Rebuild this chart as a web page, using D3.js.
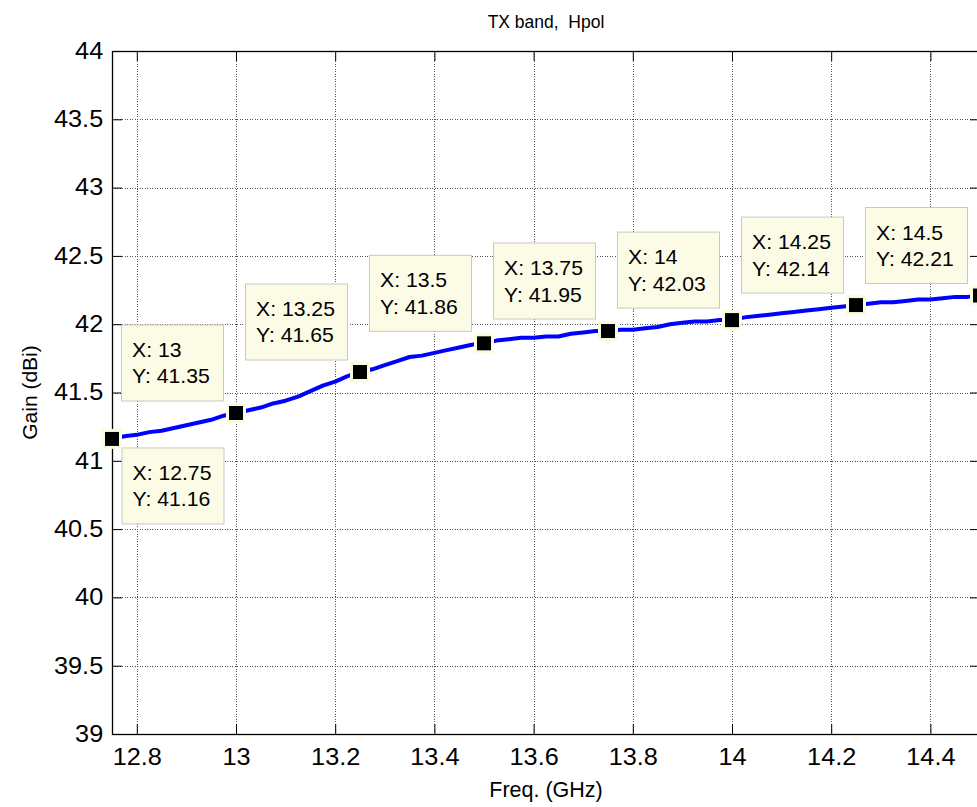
<!DOCTYPE html>
<html>
<head>
<meta charset="utf-8">
<script src="https://cdn.jsdelivr.net/npm/d3@7"></script>
<style>
  body { margin: 0; background: #fff; }
  svg { display: block; font-family: 'Liberation Sans', Arial, sans-serif; }
</style>
</head>
<body>
<svg id="chart"></svg>
<script>
const TITLE = 'TX band,  Hpol'
const X_LABEL = 'Freq. (GHz)'
const Y_LABEL = 'Gain (dBi)'

// measured gain curve (GHz / dBi)
const freq = [12.75, 12.775, 12.8, 12.825, 12.85, 12.875, 12.9, 12.925, 12.95, 12.975,
    13, 13.025, 13.05, 13.075, 13.1, 13.125, 13.15, 13.175, 13.2, 13.225,
    13.25, 13.275, 13.3, 13.325, 13.35, 13.375, 13.4, 13.425, 13.45, 13.475,
    13.5, 13.525, 13.55, 13.575, 13.6, 13.625, 13.65, 13.675, 13.7, 13.725,
    13.75, 13.775, 13.8, 13.825, 13.85, 13.875, 13.9, 13.925, 13.95, 13.975,
    14, 14.025, 14.05, 14.075, 14.1, 14.125, 14.15, 14.175, 14.2, 14.225,
    14.25, 14.275, 14.3, 14.325, 14.35, 14.375, 14.4, 14.425, 14.45, 14.475, 14.5]
const gain = [41.16, 41.18, 41.19, 41.21, 41.22, 41.24, 41.26, 41.28, 41.30, 41.33,
    41.35, 41.37, 41.39, 41.42, 41.44, 41.47, 41.51, 41.55, 41.58, 41.62,
    41.65, 41.67, 41.70, 41.73, 41.76, 41.77, 41.79, 41.81, 41.83, 41.85,
    41.86, 41.88, 41.89, 41.90, 41.90, 41.91, 41.91, 41.93, 41.94, 41.95,
    41.95, 41.96, 41.96, 41.97, 41.98, 42.00, 42.01, 42.02, 42.02, 42.03,
    42.03, 42.05, 42.06, 42.07, 42.08, 42.09, 42.10, 42.11, 42.12, 42.13,
    42.14, 42.15, 42.16, 42.16, 42.17, 42.18, 42.18, 42.19, 42.20, 42.20, 42.21]

// data tips
const tipX = [12.75, 13, 13.25, 13.5, 13.75, 14, 14.25, 14.5]
const tipY = [41.16, 41.35, 41.65, 41.86, 41.95, 42.03, 42.14, 42.21]

const xTicks = [12.8, 13, 13.2, 13.4, 13.6, 13.8, 14, 14.2, 14.4]
const yTicks = [39, 39.5, 40, 40.5, 41, 41.5, 42, 42.5, 43, 43.5, 44]

const width = 977
const height = 807
const plot = { left: 112, top: 51, right: 980, bottom: 734 }
const tickLen = 10
// the original export is slightly stretched sideways
const stretch = 'scale(1.1,1)'

const svg = d3.select('#chart')
    .attr('width', width)
    .attr('height', height)

const x = d3.scaleLinear().domain([12.75, 14.5]).range([plot.left, plot.right])
const y = d3.scaleLinear().domain([39, 44]).range([plot.bottom, plot.top])

function drawGrid() {
    const grid = svg.append('g')
        .attr('stroke', '#555')
        .attr('stroke-width', 1)
        .attr('stroke-dasharray', '1,1.5')
        .attr('shape-rendering', 'crispEdges')

    grid.selectAll('.gx')
        .data(xTicks)
        .enter().append('line')
        .attr('x1', d => Math.round(x(d)) + 0.5)
        .attr('x2', d => Math.round(x(d)) + 0.5)
        .attr('y1', plot.top)
        .attr('y2', plot.bottom)

    grid.selectAll('.gy')
        .data(yTicks)
        .enter().append('line')
        .attr('x1', plot.left)
        .attr('x2', plot.right)
        .attr('y1', d => Math.round(y(d)) + 0.5)
        .attr('y2', d => Math.round(y(d)) + 0.5)
}

function drawAxes() {
    const fmt = d => d3.format('')(d)
    const axisStyle = g => {
        g.attr('font-family', null).attr('font-size', null)
        g.select('.domain').remove()
        g.selectAll('.tick line').attr('stroke', '#000')
        g.selectAll('.tick text')
            .attr('fill', '#000')
            .attr('transform', stretch)
            .style('font-size', '23px')
    }

    // bottom and top (ticks point inward)
    svg.append('g')
        .attr('transform', `translate(0,${plot.bottom})`)
        .call(d3.axisBottom(x).tickValues(xTicks).tickFormat(fmt).tickSize(-tickLen).tickPadding(15))
        .call(axisStyle)
    svg.append('g')
        .attr('transform', `translate(0,${plot.top})`)
        .call(d3.axisTop(x).tickValues(xTicks).tickSize(-tickLen).tickFormat(''))
        .call(axisStyle)

    // left and right
    svg.append('g')
        .attr('transform', `translate(${plot.left},0)`)
        .call(d3.axisLeft(y).tickValues(yTicks).tickFormat(fmt).tickSize(-tickLen).tickPadding(8))
        .call(axisStyle)
    svg.append('g')
        .attr('transform', `translate(${plot.right},0)`)
        .call(d3.axisRight(y).tickValues(yTicks).tickSize(-tickLen).tickFormat(''))
        .call(axisStyle)

    svg.append('rect')
        .attr('x', plot.left + 0.5)
        .attr('y', plot.top + 0.5)
        .attr('width', plot.right - plot.left)
        .attr('height', plot.bottom - plot.top)
        .attr('fill', 'none')
        .attr('stroke', '#000')
        .attr('stroke-width', 1.3)
}

function drawLabels() {
    svg.append('text')
        .attr('x', (plot.left + plot.right) / 2)
        .attr('y', 28)
        .attr('text-anchor', 'middle')
        .style('font-size', '17.5px')
        .style('white-space', 'pre')
        .text(TITLE)

    svg.append('text')
        .attr('x', (plot.left + plot.right) / 2)
        .attr('y', 797)
        .attr('text-anchor', 'middle')
        .style('font-size', '21.5px')
        .text(X_LABEL)

    svg.append('text')
        .attr('transform', `translate(37,${(plot.top + plot.bottom) / 2}) rotate(-90)`)
        .attr('text-anchor', 'middle')
        .style('font-size', '21px')
        .text(Y_LABEL)
}

function drawCurve() {
    const line = d3.line()
        .x((d, i) => x(freq[i]))
        .y(d => y(d))

    svg.append('path')
        .datum(gain)
        .attr('d', line)
        .attr('fill', 'none')
        .attr('stroke', '#0000ff')
        .attr('stroke-width', 4)
        .attr('stroke-linejoin', 'round')
}

function drawDataTips() {
    const boxW = 102
    const boxH = 76
    const tips = svg.selectAll('.tip')
        .data(tipX)
        .enter().append('g')
        .attr('class', 'tip')
        .attr('transform', (d, i) => {
            const px = x(d)
            const py = y(tipY[i])
            // first tip sits below right, others above left
            const bx = i === 0 ? px + 10 : px - 12.5 - boxW
            const by = i === 0 ? py + 9 : py - 12 - boxH
            return `translate(${bx},${by})`
        })

    tips.append('rect')
        .attr('width', boxW)
        .attr('height', boxH)
        .attr('fill', '#fbfbe6')
        .attr('stroke', '#c9c9c0')
        .attr('stroke-width', 1)

    const tipText = tips.append('g')
        .attr('transform', `translate(10.5,0) scale(1.06,1)`)
        .style('font-size', '20px')

    tipText.append('text')
        .attr('y', 32)
        .text(d => `X: ${d}`)

    tipText.append('text')
        .attr('y', 58.5)
        .text((d, i) => `Y: ${tipY[i].toFixed(2)}`)

    svg.selectAll('.marker')
        .data(tipX)
        .enter().append('rect')
        .attr('class', 'marker')
        .attr('x', d => x(d) - 8.5)
        .attr('y', (d, i) => y(tipY[i]) - 8.5)
        .attr('width', 17)
        .attr('height', 17)
        .attr('fill', '#000')
        .attr('stroke', '#fbfbe0')
        .attr('stroke-width', 3)
}

drawGrid()
drawCurve()
drawAxes()
drawLabels()
drawDataTips()
</script>
</body>
</html>
